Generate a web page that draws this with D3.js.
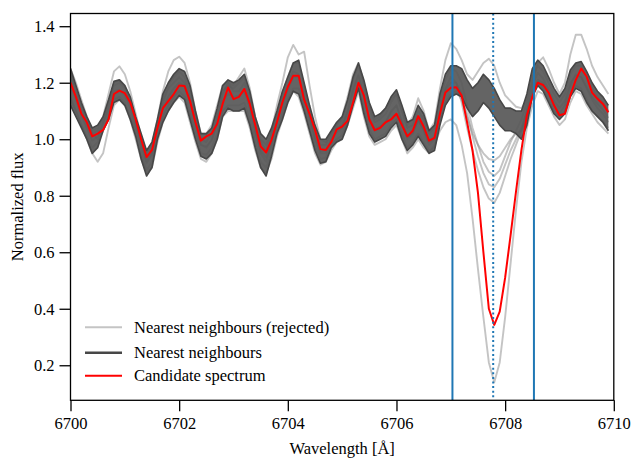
<!DOCTYPE html>
<html><head><meta charset="utf-8">
<script src="https://cdn.jsdelivr.net/npm/d3@7"></script>
</head><body style="margin:0">
<svg id="fig" width="632" height="458"></svg>
<script>
// ---- data (wavelength grid: 6700.0 .. 6709.9, step 0.1 Å) ----
const lambdaStart = 6700.0;
const lambdaStep = 0.1;

const candidate = [
1.20,1.15,1.09,1.06,1.01,1.02,1.033,1.07,1.16,1.172,
1.163,1.13,1.07,1.00,0.937,0.962,1.04,1.11,1.135,1.16,
1.19,1.188,1.135,1.06,0.995,1.01,1.02,1.055,1.125,1.183,
1.142,1.15,1.178,1.125,1.05,0.975,0.953,0.998,1.06,1.13,
1.185,1.225,1.225,1.14,1.09,1.033,0.965,0.962,0.99,1.035,
1.045,1.065,1.13,1.20,1.155,1.07,1.032,1.04,1.06,1.07,
1.09,1.05,1.01,1.03,1.082,1.045,0.995,1.005,1.09,1.165,
1.182,1.184,1.155,1.06,0.96,0.81,0.60,0.40,0.343,0.39,
0.51,0.66,0.815,0.962,1.085,1.15,1.20,1.192,1.165,1.12,
1.085,1.09,1.155,1.21,1.25,1.222,1.165,1.143,1.125,1.095];

// accepted nearest neighbours: upper and lower edge of the dark bundle
const neighboursUpper = [
1.25,1.19,1.13,1.08,1.04,1.05,1.08,1.14,1.205,1.21,
1.19,1.15,1.08,1.02,0.96,0.99,1.07,1.16,1.20,1.23,
1.25,1.24,1.19,1.10,1.02,1.02,1.04,1.11,1.19,1.21,
1.20,1.21,1.23,1.17,1.08,1.02,1.00,1.04,1.10,1.17,
1.22,1.27,1.28,1.20,1.12,1.05,1.00,1.00,1.03,1.06,
1.08,1.14,1.22,1.27,1.21,1.13,1.08,1.09,1.11,1.15,
1.175,1.12,1.06,1.07,1.12,1.09,1.03,1.05,1.16,1.23,
1.26,1.26,1.25,1.21,1.18,1.20,1.23,1.21,1.18,1.14,
1.11,1.11,1.10,1.10,1.16,1.25,1.28,1.26,1.22,1.18,
1.15,1.18,1.245,1.27,1.275,1.24,1.20,1.17,1.15,1.12];

const neighboursLower = [
1.12,1.08,1.04,1.00,0.95,0.97,1.03,1.07,1.13,1.14,
1.12,1.07,1.01,0.93,0.87,0.90,1.00,1.06,1.10,1.13,
1.155,1.14,1.07,1.00,0.94,0.93,0.95,1.00,1.08,1.11,
1.10,1.10,1.11,1.05,0.97,0.90,0.87,0.94,1.02,1.07,
1.13,1.17,1.16,1.10,1.03,0.96,0.915,0.92,0.97,0.99,
1.00,1.05,1.12,1.18,1.09,1.02,0.99,1.00,1.01,1.04,
1.06,1.00,0.96,0.98,1.01,0.98,0.95,0.96,1.05,1.12,
1.15,1.16,1.15,1.11,1.08,1.10,1.13,1.11,1.08,1.05,
1.03,1.03,1.02,1.00,1.05,1.15,1.19,1.17,1.13,1.09,
1.07,1.09,1.15,1.18,1.17,1.13,1.10,1.08,1.06,1.03];

// rejected nearest neighbours
const rejectedDeep = [
1.15,1.10,1.05,1.00,0.95,0.92,0.95,1.04,1.12,1.14,
1.12,1.07,1.00,0.93,0.88,0.90,0.99,1.06,1.10,1.13,
1.15,1.13,1.06,0.99,0.93,0.92,0.95,1.00,1.08,1.10,
1.10,1.10,1.10,1.04,0.96,0.90,0.88,0.93,1.01,1.07,
1.13,1.17,1.15,1.09,1.02,0.95,0.91,0.92,0.96,0.99,
1.00,1.05,1.11,1.17,1.08,1.01,0.98,0.99,1.00,1.03,
1.05,1.00,0.95,0.97,1.00,0.97,0.95,0.98,1.03,1.06,
1.07,1.05,0.98,0.88,0.72,0.54,0.37,0.21,0.14,0.21,
0.37,0.56,0.75,0.92,1.04,1.12,1.17,1.16,1.12,1.08,
1.05,1.07,1.13,1.17,1.16,1.12,1.09,1.06,1.04,1.02];

const rejectedHigh = [
1.25,1.20,1.14,1.08,1.03,1.04,1.08,1.16,1.24,1.258,
1.23,1.17,1.09,1.01,0.95,0.98,1.07,1.17,1.24,1.28,
1.292,1.27,1.20,1.10,1.02,1.02,1.05,1.12,1.19,1.20,
1.19,1.22,1.25,1.18,1.08,1.00,0.98,1.03,1.12,1.20,
1.29,1.334,1.30,1.31,1.19,1.08,1.00,0.99,1.02,1.05,
1.08,1.15,1.23,1.27,1.20,1.12,1.07,1.08,1.11,1.14,
1.16,1.10,1.05,1.08,1.145,1.10,1.03,1.06,1.18,1.28,
1.34,1.32,1.28,1.23,1.21,1.24,1.27,1.285,1.26,1.20,
1.155,1.135,1.115,1.11,1.14,1.20,1.27,1.29,1.25,1.20,
1.16,1.20,1.30,1.37,1.37,1.32,1.26,1.22,1.19,1.16];

const rejectedC = [
1.23,1.18,1.12,1.07,1.02,1.00,1.06,1.12,1.19,1.20,
1.18,1.13,1.06,0.99,0.92,0.95,1.04,1.13,1.18,1.20,
1.22,1.20,1.14,1.06,0.98,0.97,1.00,1.07,1.16,1.20,
1.17,1.17,1.20,1.13,1.03,0.95,0.92,0.98,1.07,1.14,
1.20,1.24,1.23,1.15,1.08,1.00,0.95,0.95,1.00,1.04,
1.05,1.10,1.18,1.23,1.15,1.07,1.03,1.04,1.06,1.10,
1.12,1.06,1.00,1.02,1.07,1.03,0.98,1.00,1.10,1.18,
1.22,1.20,1.13,1.04,0.96,0.89,0.83,0.79,0.775,0.81,
0.87,0.93,0.98,1.03,1.10,1.17,1.21,1.20,1.16,1.12,
1.09,1.12,1.19,1.23,1.22,1.18,1.14,1.11,1.09,1.06];

const rejectedD = [
1.19,1.14,1.085,1.04,0.995,1.01,1.055,1.105,1.17,1.175,
1.155,1.11,1.045,0.975,0.915,0.945,1.035,1.11,1.15,1.18,
1.20,1.19,1.13,1.05,0.98,0.975,0.995,1.055,1.135,1.16,
1.15,1.155,1.17,1.11,1.025,0.96,0.935,0.99,1.06,1.12,
1.175,1.22,1.22,1.15,1.075,1.005,0.955,0.96,1.00,1.025,
1.04,1.095,1.17,1.225,1.15,1.075,1.035,1.045,1.06,1.095,
1.12,1.06,1.01,1.025,1.065,1.035,0.99,1.005,1.10,1.175,
1.20,1.20,1.16,1.09,1.01,0.94,0.88,0.84,0.83,0.86,
0.91,0.96,1.00,1.04,1.10,1.19,1.235,1.215,1.175,1.135,
1.11,1.135,1.20,1.225,1.22,1.185,1.15,1.125,1.105,1.075];

const rejectedE = [
1.22,1.17,1.11,1.06,1.02,1.03,1.07,1.13,1.20,1.21,
1.19,1.14,1.07,0.99,0.93,0.96,1.05,1.14,1.19,1.22,
1.24,1.22,1.16,1.08,1.00,0.99,1.02,1.09,1.17,1.19,
1.18,1.20,1.22,1.15,1.06,0.99,0.96,1.02,1.09,1.16,
1.22,1.27,1.27,1.19,1.11,1.03,0.98,0.98,1.02,1.05,
1.07,1.13,1.21,1.26,1.19,1.11,1.06,1.07,1.09,1.13,
1.16,1.10,1.04,1.05,1.10,1.07,1.02,1.04,1.14,1.21,
1.25,1.24,1.20,1.12,1.04,0.98,0.92,0.885,0.87,0.89,
0.94,0.99,1.03,1.07,1.13,1.22,1.26,1.24,1.20,1.16,
1.13,1.16,1.23,1.26,1.26,1.22,1.18,1.15,1.13,1.10];

const rejectedF = [
1.14,1.10,1.05,1.01,0.97,0.99,1.03,1.08,1.14,1.15,
1.13,1.08,1.02,0.95,0.89,0.92,1.01,1.08,1.12,1.15,
1.17,1.15,1.09,1.02,0.95,0.945,0.97,1.02,1.10,1.12,
1.12,1.12,1.13,1.07,0.99,0.92,0.90,0.95,1.03,1.09,
1.14,1.18,1.18,1.11,1.04,0.975,0.93,0.935,0.98,1.00,
1.015,1.065,1.13,1.19,1.10,1.035,1.00,1.01,1.02,1.05,
1.07,1.02,0.97,0.99,1.02,0.99,0.96,0.97,1.06,1.13,
1.16,1.17,1.14,1.08,1.02,0.98,0.95,0.93,0.925,0.94,
0.97,1.00,1.02,1.03,1.08,1.16,1.20,1.18,1.14,1.10,
1.08,1.10,1.16,1.19,1.18,1.14,1.10,1.08,1.06,1.04];

const rejectedSeries = [rejectedDeep, rejectedHigh, rejectedC, rejectedD, rejectedE, rejectedF];

const lineWindow = [6707.03, 6708.53];   // solid vertical lines
const lineCentre = 6707.78;              // dotted vertical line
const xTicks = [6700, 6702, 6704, 6706, 6708, 6710];
const yTicks = [0.2, 0.4, 0.6, 0.8, 1.0, 1.2, 1.4];
const xDomain = [6700, 6710];
const yDomain = [0.076, 1.445];
const legendLabels = ["Nearest neighbours (rejected)", "Nearest neighbours", "Candidate spectrum"];

// ---- drawing ----
const FONT = '"Liberation Serif", monospace';
const FS = 16.5;
const W = 632, H = 458;
const m = {left: 70.5, right: 18.2, top: 13.5, bottom: 57.7};
const svg = d3.select("#fig");
const x = d3.scaleLinear().domain(xDomain).range([m.left, W - m.right]);
const y = d3.scaleLinear().domain(yDomain).range([H - m.bottom, m.top]);
const wl = i => lambdaStart + i * lambdaStep;

const colRej = "#8a8a8a", colAcc = "#474747", colCand = "#ff0000", colBlue = "#1f77b4";

svg.append("defs").append("clipPath").attr("id", "clip")
  .append("rect").attr("x", m.left).attr("y", m.top)
  .attr("width", W - m.left - m.right).attr("height", H - m.top - m.bottom);

const plot = svg.append("g").attr("clip-path", "url(#clip)");
const line = d3.line().x((d, i) => x(wl(i))).y(d => y(d));

// rejected
plot.selectAll("path.rej").data(rejectedSeries).join("path")
  .attr("class", "rej").attr("d", line)
  .attr("fill", "none").attr("stroke", colRej).attr("stroke-opacity", 0.5)
  .attr("stroke-width", 1.9).attr("stroke-linejoin", "round");

// accepted neighbours bundle
const area = d3.area().x((d, i) => x(wl(i)))
  .y0((d, i) => y(neighboursLower[i])).y1((d, i) => y(neighboursUpper[i]));
plot.append("path").datum(neighboursUpper).attr("d", area)
  .attr("fill", "#575757").attr("fill-opacity", 0.92);
plot.selectAll("path.acc").data([neighboursUpper, neighboursLower]).join("path")
  .attr("class", "acc").attr("d", line)
  .attr("fill", "none").attr("stroke", colAcc).attr("stroke-width", 1.6)
  .attr("stroke-linejoin", "round");

// candidate
plot.append("path").datum(candidate).attr("d", line)
  .attr("fill", "none").attr("stroke", colCand).attr("stroke-width", 2)
  .attr("stroke-linejoin", "round");

// vertical lines
plot.selectAll("line.win").data(lineWindow).join("line").attr("class", "win")
  .attr("x1", d => x(d)).attr("x2", d => x(d))
  .attr("y1", m.top).attr("y2", H - m.bottom)
  .attr("stroke", colBlue).attr("stroke-width", 2);
plot.append("line")
  .attr("x1", x(lineCentre)).attr("x2", x(lineCentre))
  .attr("y1", m.top).attr("y2", H - m.bottom)
  .attr("stroke", colBlue).attr("stroke-width", 2)
  .attr("stroke-dasharray", "2,2.6");

// axes
const xAxis = d3.axisBottom(x).tickValues(xTicks).tickFormat(d3.format("d"))
  .tickSize(11).tickPadding(6);
const gx = svg.append("g").attr("transform", `translate(0,${H - m.bottom})`).call(xAxis);
const yAxis = d3.axisLeft(y).tickValues(yTicks).tickFormat(d3.format(".1f"))
  .tickSize(11).tickPadding(5);
const gy = svg.append("g").attr("transform", `translate(${m.left},0)`).call(yAxis);
[gx, gy].forEach(g => {
  g.attr("font-family", FONT).attr("font-size", FS);
  g.select(".domain").remove();
  g.selectAll(".tick line").attr("stroke", "#000").attr("stroke-width", 1.3);
  g.selectAll(".tick text").attr("fill", "#000");
});

// frame
svg.append("rect").attr("x", m.left).attr("y", m.top)
  .attr("width", W - m.left - m.right).attr("height", H - m.top - m.bottom)
  .attr("fill", "none").attr("stroke", "#000").attr("stroke-width", 1.3);

// axis labels
svg.append("text").attr("x", (m.left + W - m.right) / 2).attr("y", 454)
  .attr("text-anchor", "middle").text("Wavelength [Å]");
svg.append("text").attr("transform", `translate(23,${(m.top + H - m.bottom) / 2}) rotate(-90)`)
  .attr("text-anchor", "middle").text("Normalized flux");

// legend
const legColors = ["#c4c4c4", colAcc, colCand];
const legY = [327.3, 352.7, 375.7];
const leg = svg.append("g");
legendLabels.forEach((t, i) => {
  leg.append("line").attr("x1", 85).attr("x2", 122).attr("y1", legY[i]).attr("y2", legY[i])
    .attr("stroke", legColors[i]).attr("stroke-width", i === 1 ? 2.4 : 2);
  leg.append("text").attr("x", 134).attr("y", legY[i] + 5.5).text(t);
});

svg.selectAll("text").attr("font-family", FONT).attr("font-size", FS)
  .style("font-family", FONT);
</script>
</body></html>
